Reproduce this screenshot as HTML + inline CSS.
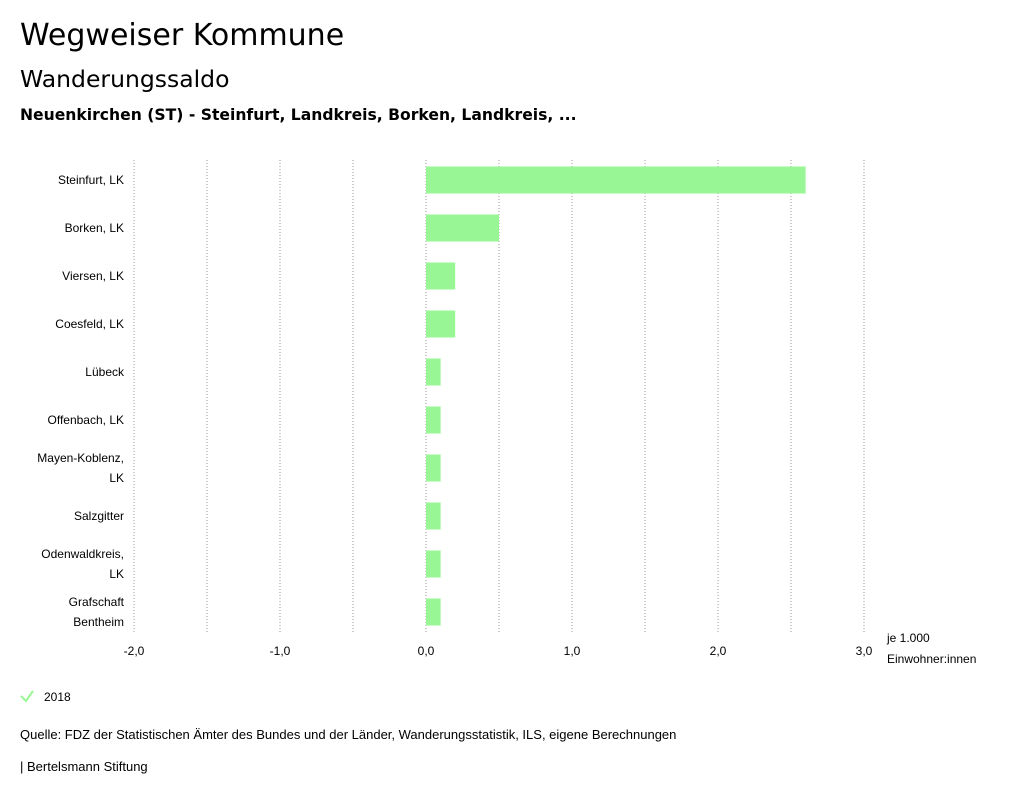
<!DOCTYPE html>
<html><head><meta charset="utf-8"><style>
body{margin:0;width:1024px;height:799px;background:#fff;font-family:"Liberation Sans",sans-serif;color:#000;overflow:hidden}
.t{position:absolute;white-space:nowrap}
</style></head><body>
<div class="t" style="left:20px;top:18px;font-size:30px;font-family:'DejaVu Sans',sans-serif">Wegweiser Kommune</div>
<div class="t" style="left:20px;top:65px;font-size:23.5px;font-family:'DejaVu Sans',sans-serif">Wanderungssaldo</div>
<div class="t" style="left:20px;top:106px;font-size:15.6px;font-family:'DejaVu Sans',sans-serif;font-weight:bold">Neuenkirchen (ST) - Steinfurt, Landkreis, Borken, Landkreis, ...</div>
<svg id="c" width="1024" height="799" style="position:absolute;left:0;top:0"></svg>
<div class="t" style="left:20px;top:727px;font-size:13px">Quelle: FDZ der Statistischen Ämter des Bundes und der Länder, Wanderungsstatistik, ILS, eigene Berechnungen</div>
<div class="t" style="left:20px;top:759px;font-size:13px">| Bertelsmann Stiftung</div>
<script>
const categories=[["Steinfurt, LK"],["Borken, LK"],["Viersen, LK"],["Coesfeld, LK"],["Lübeck"],["Offenbach, LK"],["Mayen-Koblenz,","LK"],["Salzgitter"],["Odenwaldkreis,","LK"],["Grafschaft","Bentheim"]];
const values2018=[2.6,0.5,0.2,0.2,0.1,0.1,0.1,0.1,0.1,0.1];
const ticks=[-2,-1,0,1,2,3];
const tickLabels=["-2,0","-1,0","0,0","1,0","2,0","3,0"];
const NS="http://www.w3.org/2000/svg",svg=document.getElementById('c');
const x=v=>426+(v)*146;
const y=i=>180+i*48;
function mk(t,a){const e=document.createElementNS(NS,t);for(const k in a)e.setAttribute(k,a[k]);svg.appendChild(e);return e;}
for(let g=-2;g<=3;g+=0.5){const l=mk('line',{x1:x(g),x2:x(g),y1:160,y2:634,stroke:'#999','stroke-dasharray':'1,2'});

}
ticks.forEach((t,i)=>{const e=mk('text',{x:x(t),y:655,'text-anchor':'middle','font-size':12});e.textContent=tickLabels[i];

});
categories.forEach((c,i)=>{
const r=mk('rect',{x:Math.min(x(0),x(values2018[i])),y:y(i)-13.5,width:Math.abs(x(values2018[i])-x(0)),height:27,fill:'#98f794'});


c.forEach((s,j)=>{const e=mk('text',{x:124,y:y(i)+4+(c.length>1?(j-0.5)*20:0),'text-anchor':'end','font-size':12});e.textContent=s;

});});
[["je 1.000",642],["Einwohner:innen",663]].forEach(a=>{const e=mk('text',{x:887,y:a[1],'font-size':12});e.textContent=a[0];

});
const ck=mk('path',{d:'M21 696 L26 701 L33 691',stroke:'#98f794','stroke-width':2,fill:'none'});


const lt=mk('text',{x:44,y:701,'font-size':12});lt.textContent='2018';


</script>
</body></html>
